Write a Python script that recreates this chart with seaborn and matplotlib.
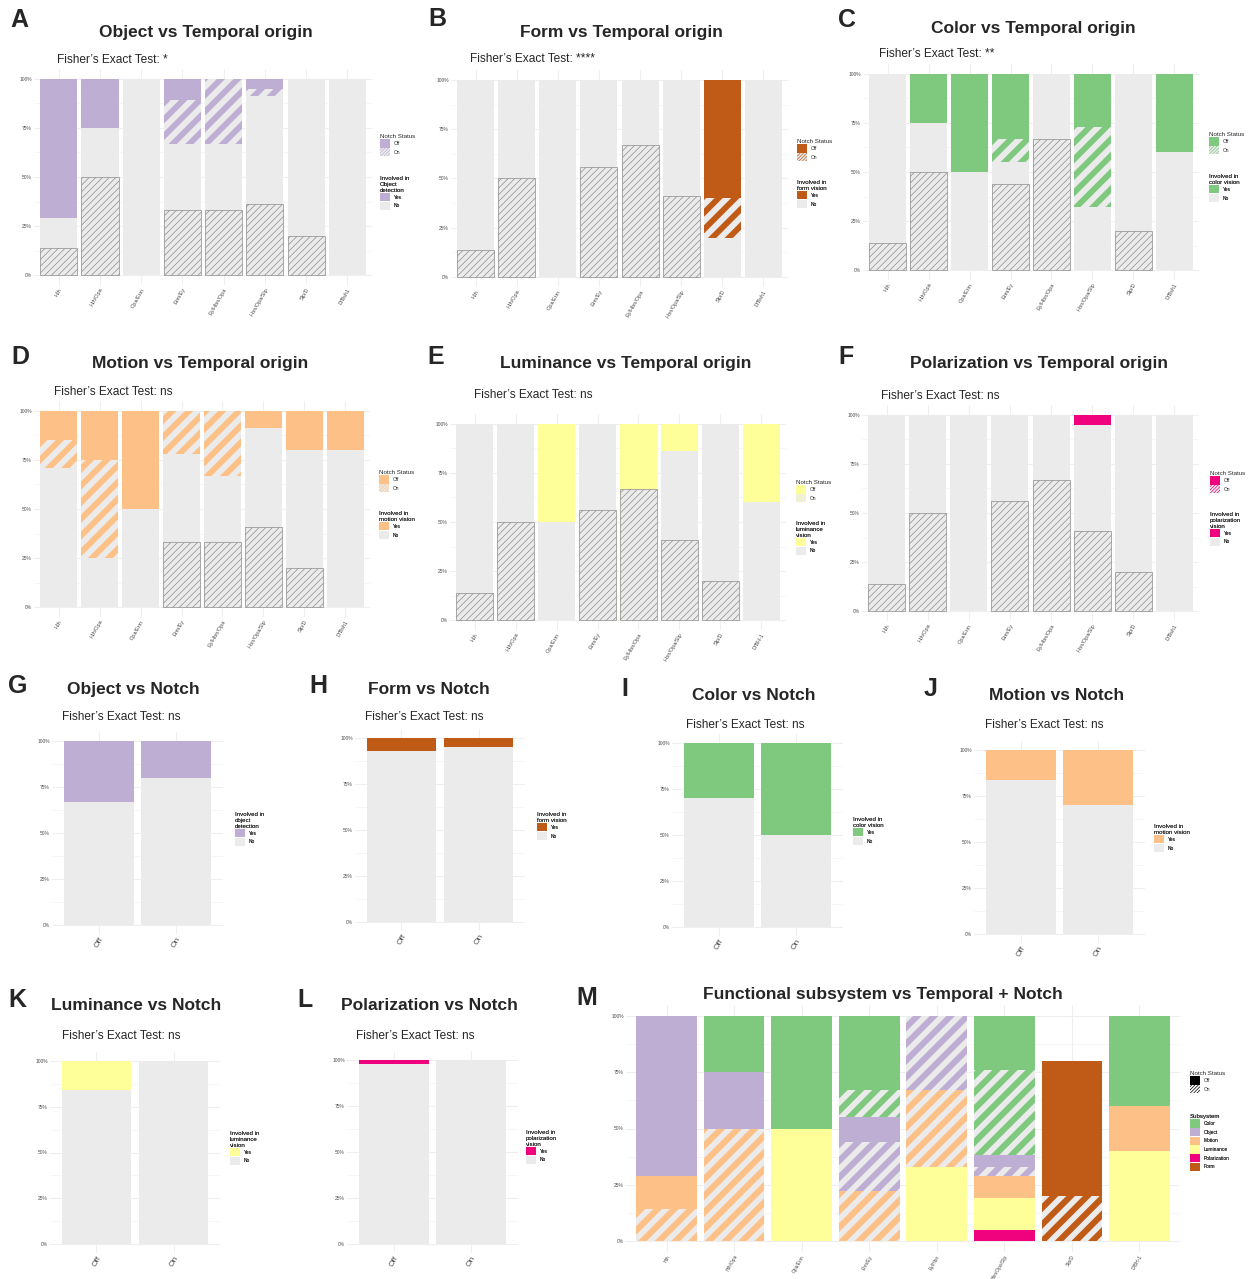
import matplotlib
matplotlib.use("Agg")
import matplotlib.pyplot as plt
import matplotlib.patches as mpatches
from matplotlib.ticker import FixedLocator
import numpy as np
import seaborn as sns

W, H = 1251, 1279

# ---- data (percent of neurons) ----
origins = ["Hth", "Hth/Opa", "Opa/Erm", "Erm/Ey", "Ey/Hbn/Opa", "Hbn/Opa/Slp", "Slp/D", "D/Bsh1"]
origins_e = ["Hth", "Hth/Opa", "Opa/Erm", "Erm/Ey", "Ey/Hbn/Opa", "Hbn/Opa/Slp", "Slp/D", "D/BH-1"]
origins_m = ["Hth", "Hth/Opa", "Opa/Erm", "Erm/Ey", "Ey/Hbn", "Hbn/Opa/Slp", "Slp/D", "D/BH-1"]
notch = ["Off", "On"]

# per origin: not involved + Notch on, not involved + Notch off, involved + Notch on, involved + Notch off
object_no_on = [14, 50, 0, 33, 33, 36, 20, 0]
object_no_off = [15, 25, 100, 34, 34, 55, 80, 100]
object_yes_on = [0, 0, 0, 22, 33, 4, 0, 0]
object_yes_off = [71, 25, 0, 11, 0, 5, 0, 0]

form_no_on = [14, 50, 0, 56, 67, 41, 0, 0]
form_no_off = [86, 50, 100, 44, 33, 59, 20, 100]
form_yes_on = [0, 0, 0, 0, 0, 0, 20, 0]
form_yes_off = [0, 0, 0, 0, 0, 0, 60, 0]

color_no_on = [14, 50, 0, 44, 67, 0, 20, 0]
color_no_off = [86, 25, 50, 11, 33, 32, 80, 60]
color_yes_on = [0, 0, 0, 12, 0, 41, 0, 0]
color_yes_off = [0, 25, 50, 33, 0, 27, 0, 40]

motion_no_on = [0, 0, 0, 33, 33, 41, 20, 0]
motion_no_off = [71, 25, 50, 45, 34, 50, 60, 80]
motion_yes_on = [14, 50, 0, 22, 33, 0, 0, 0]
motion_yes_off = [15, 25, 50, 0, 0, 9, 20, 20]

lum_no_on = [14, 50, 0, 56, 67, 41, 20, 0]
lum_no_off = [86, 50, 50, 44, 0, 45, 80, 60]
lum_yes_on = [0, 0, 0, 0, 0, 0, 0, 0]
lum_yes_off = [0, 0, 50, 0, 33, 14, 0, 40]

pol_no_on = [14, 50, 0, 56, 67, 41, 20, 0]
pol_no_off = [86, 50, 100, 44, 33, 54, 80, 100]
pol_yes_on = [0, 0, 0, 0, 0, 0, 0, 0]
pol_yes_off = [0, 0, 0, 0, 0, 5, 0, 0]

# percent involved, by Notch status (Off, On)
object_yes_notch = [33, 20]
form_yes_notch = [7, 5]
color_yes_notch = [30, 50]
motion_yes_notch = [16, 30]
lum_yes_notch = [16, 0]
pol_yes_notch = [2, 0]

# panel M: subsystem share per origin, Notch on / off
m_color_on = [0, 0, 0, 12, 0, 38, 0, 0]
m_color_off = [0, 25, 50, 33, 0, 24, 0, 40]
m_object_on = [0, 0, 0, 22, 33, 4, 0, 0]
m_object_off = [71, 25, 0, 11, 0, 5, 0, 0]
m_motion_on = [14, 50, 0, 22, 34, 0, 0, 0]
m_motion_off = [15, 0, 0, 0, 0, 10, 0, 20]
m_lum_on = [0, 0, 0, 0, 0, 0, 0, 0]
m_lum_off = [0, 0, 50, 0, 33, 14, 0, 40]
m_pol_on = [0, 0, 0, 0, 0, 0, 0, 0]
m_pol_off = [0, 0, 0, 0, 0, 5, 0, 0]
m_form_on = [0, 0, 0, 0, 0, 0, 20, 0]
m_form_off = [0, 0, 0, 0, 0, 0, 60, 0]

COL = {"Color": "#7FC97F", "Object": "#BEAED4", "Motion": "#FDC086",
       "Luminance": "#FFFF99", "Polarization": "#F0027F", "Form": "#BF5B17"}
GREY = "#EBEBEB"
GRID = "#EFEFEF"
OUTLINE = "#8C8C8C"
TXT = "#4D4D4D"

sns.set_theme(style="whitegrid")
plt.rcParams["font.family"] = ["Liberation Sans", "DejaVu Sans"]
plt.rcParams["hatch.linewidth"] = 0.5

fig = plt.figure(figsize=(W / 100, H / 100), dpi=100)


def add_ax(left, top, right, bottom):
    return fig.add_axes([left / W, 1 - bottom / H, (right - left) / W, (bottom - top) / H])


def put(x, y, s, **kw):
    fig.text(x / W, 1 - y / H, s, **kw)


def stacked(ax, labels, layers):
    # layers bottom -> top: (values, face, edge, hatch, hatch_lw, outline_lw)
    cum = np.cumsum([np.asarray(l[0], float) for l in layers], axis=0)
    for i in range(len(layers) - 1, -1, -1):
        vals, fc, ec, hatch, hlw, lw = layers[i]
        n0 = len(ax.patches)
        sns.barplot(x=labels, y=cum[i], ax=ax, width=0.9, saturation=1,
                    errorbar=None, color=fc, linewidth=0)
        for p, v in zip(ax.patches[n0:], vals):
            if v == 0:
                p.set_visible(False)
                continue
            p.set_facecolor(fc)
            p.set_edgecolor(ec)
            p.set_linewidth(lw)
            if hatch:
                p.set_hatch(hatch)
                if hasattr(p, "set_hatch_linewidth"):
                    p.set_hatch_linewidth(hlw)


def finish(ax, labels, xsize, ysize):
    n = len(labels)
    ax.set_xlim(-0.6, n - 0.4)
    ax.set_ylim(-5, 105)
    ax.set_xlabel("")
    ax.set_ylabel("")
    ax.set_xticks(range(n))
    ax.set_xticklabels(labels, rotation=60, ha="right", va="top",
                       rotation_mode="anchor", fontsize=xsize, color=TXT)
    ax.set_yticks([0, 25, 50, 75, 100])
    ax.set_yticklabels(["0%", "25%", "50%", "75%", "100%"], fontsize=ysize, color=TXT)
    ax.yaxis.set_minor_locator(FixedLocator([12.5, 37.5, 62.5, 87.5]))
    ax.tick_params(length=0, pad=1.5, which="both")
    ax.grid(True, which="major", color=GRID, lw=0.8)
    ax.yaxis.grid(True, which="minor", color=GRID, lw=0.4)
    ax.set_axisbelow(True)
    for s in ax.spines.values():
        s.set_visible(False)
    ax.set_facecolor("white")


def legend_at(ax, x, y, handles, labels, title):
    leg = ax.legend(handles, labels, title=title, loc="upper left",
                    bbox_to_anchor=(x / W, 1 - y / H), bbox_transform=fig.transFigure,
                    frameon=False, fontsize=3.5, title_fontsize=4.4,
                    handlelength=2.0, handleheight=2.2, handletextpad=0.8,
                    labelspacing=0.1, borderpad=0, borderaxespad=0, alignment="left")
    ax.add_artist(leg)


def temporal_panel(rect, labels, no_on, no_off, yes_on, yes_off, key, inv_title,
                   letter, lxy, title, txy, sub, sxy, legxy):
    c = COL[key]
    ax = add_ax(*rect)
    stacked(ax, labels, [
        (no_on, GREY, OUTLINE, "/////", 0.5, 0.5),
        (no_off, GREY, GREY, "", None, 0),
        (yes_on, GREY, c, "//", 4.2, 0),
        (yes_off, c, c, "", None, 0),
    ])
    finish(ax, labels, 4.0, 3.5)
    put(*lxy, letter, fontsize=18, fontweight="bold", va="center", ha="left")
    put(*txy, title, fontsize=12.5, fontweight="bold", va="center", ha="center")
    put(*sxy, "Fisher\u2019s Exact Test: " + sub, fontsize=8.6, va="center", ha="left")
    lx, ly1, ly2 = legxy
    legend_at(ax, lx, ly1,
              [mpatches.Patch(facecolor=c, lw=0),
               mpatches.Patch(facecolor=GREY, edgecolor=c, hatch="//////////", lw=0)],
              ["Off", "On"], "Notch Status")
    legend_at(ax, lx, ly2,
              [mpatches.Patch(facecolor=c, lw=0), mpatches.Patch(facecolor=GREY, lw=0)],
              ["Yes", "No"], inv_title)


def notch_panel(rect, yes, key, inv_title, letter, lxy, title, txy, sxy, legxy):
    c = COL[key]
    ax = add_ax(*rect)
    no = [100 - v for v in yes]
    stacked(ax, notch, [
        (no, GREY, GREY, "", None, 0),
        (yes, c, c, "", None, 0),
    ])
    finish(ax, notch, 6.0, 3.5)
    put(*lxy, letter, fontsize=18, fontweight="bold", va="center", ha="left")
    put(*txy, title, fontsize=12.5, fontweight="bold", va="center", ha="center")
    put(*sxy, "Fisher\u2019s Exact Test: ns", fontsize=8.6, va="center", ha="left")
    legend_at(ax, legxy[0], legxy[1],
              [mpatches.Patch(facecolor=c, lw=0), mpatches.Patch(facecolor=GREY, lw=0)],
              ["Yes", "No"], inv_title)


# ---- top two rows ----
temporal_panel((34, 69, 372, 285), origins, object_no_on, object_no_off, object_yes_on, object_yes_off,
               "Object", "Involved in\nObject\ndetection", "A", (10, 20),
               "Object vs Temporal origin", (206, 33), "*", (57, 60), (380, 134, 176))
temporal_panel((451, 70, 788, 287), origins, form_no_on, form_no_off, form_yes_on, form_yes_off,
               "Form", "Involved in\nform vision", "B", (428, 19),
               "Form vs Temporal origin", (621, 32), "****", (470, 59), (797, 139, 180))
temporal_panel((863, 64, 1199, 280), origins, color_no_on, color_no_off, color_yes_on, color_yes_off,
               "Color", "Involved in\ncolor vision", "C", (838, 20),
               "Color vs Temporal origin", (1033, 29), "**", (879, 54), (1209, 132, 174))
temporal_panel((34, 401, 370, 617), origins, motion_no_on, motion_no_off, motion_yes_on, motion_yes_off,
               "Motion", "Involved in\nmotion vision", "D", (11, 357),
               "Motion vs Temporal origin", (200, 363), "ns", (54, 392), (379, 470, 511))
temporal_panel((450, 414, 786, 630), origins_e, lum_no_on, lum_no_off, lum_yes_on, lum_yes_off,
               "Luminance", "Involved in\nluminance\nvision", "E", (427, 357),
               "Luminance vs Temporal origin", (626, 363), "ns", (474, 395), (796, 480, 521))
temporal_panel((862, 405, 1199, 621), origins, pol_no_on, pol_no_off, pol_yes_on, pol_yes_off,
               "Polarization", "Involved in\npolarization\nvision", "F", (838, 357),
               "Polarization vs Temporal origin", (1039, 363), "ns", (881, 396), (1210, 471, 512))

# ---- Notch rows ----
notch_panel((52, 732, 223, 934), object_yes_notch, "Object", "Involved in\nobject\ndetection",
            "G", (8, 686), "Object vs Notch", (133, 690), (62, 717), (235, 812))
notch_panel((355, 729, 525, 931), form_yes_notch, "Form", "Involved in\nform vision",
            "H", (309, 686), "Form vs Notch", (429, 690), (365, 717), (537, 812))
notch_panel((672, 734, 843, 936), color_yes_notch, "Color", "Involved in\ncolor vision",
            "I", (621, 689), "Color vs Notch", (754, 696), (686, 725), (853, 817))
notch_panel((974, 741, 1145, 943), motion_yes_notch, "Motion", "Involved in\nmotion vision",
            "J", (924, 689), "Motion vs Notch", (1057, 696), (985, 725), (1154, 824))
notch_panel((50, 1052, 220, 1253), lum_yes_notch, "Luminance", "Involved in\nluminance\nvision",
            "K", (8, 1000), "Luminance vs Notch", (136, 1006), (62, 1036), (230, 1131))
notch_panel((347, 1051, 518, 1253), pol_yes_notch, "Polarization", "Involved in\npolarization\nvision",
            "L", (297, 1000), "Polarization vs Notch", (429, 1006), (356, 1036), (526, 1130))

# ---- panel M ----
axm = add_ax(626, 1005, 1180, 1252)
m_layers = []
for key, on, off in [("Form", m_form_on, m_form_off), ("Polarization", m_pol_on, m_pol_off),
                     ("Luminance", m_lum_on, m_lum_off), ("Motion", m_motion_on, m_motion_off),
                     ("Object", m_object_on, m_object_off), ("Color", m_color_on, m_color_off)]:
    m_layers.append((on, GREY, COL[key], "//", 4.4, 0))
    m_layers.append((off, COL[key], COL[key], "", None, 0))
stacked(axm, origins_m, m_layers)
finish(axm, origins_m, 3.5, 3.5)
put(576, 998, "M", fontsize=18, fontweight="bold", va="center", ha="left")
put(883, 994, "Functional subsystem vs Temporal + Notch", fontsize=12.5, fontweight="bold",
    va="center", ha="center")
legend_at(axm, 1190, 1071,
          [mpatches.Patch(facecolor="black", lw=0),
           mpatches.Patch(facecolor="white", edgecolor="black", hatch="//////////", lw=0)],
          ["Off", "On"], "Notch Status")
subsystems = ["Color", "Object", "Motion", "Luminance", "Polarization", "Form"]
legend_at(axm, 1190, 1114,
          [mpatches.Patch(facecolor=COL[s], lw=0) for s in subsystems],
          subsystems, "Subsystem")

fig.savefig("out.png", dpi=100)
